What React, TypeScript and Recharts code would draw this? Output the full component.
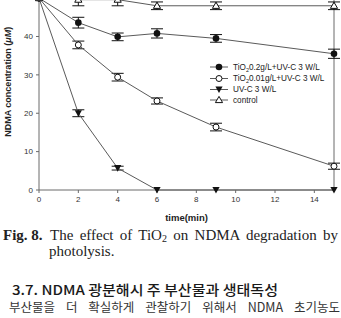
import React from "react"
import { LineChart, Line, XAxis, YAxis, ErrorBar, ReferenceLine, Label } from "recharts"

// sampling times (min)
const TIME = [0, 2, 4, 6, 9, 15]

// NDMA concentration (μM) and standard deviations per condition
const TIO2_HIGH = [50, 43.6, 39.9, 40.8, 39.5, 35.5]
const TIO2_HIGH_ERR = [0, 1.4, 1.0, 1.2, 1.0, 1.2]
const TIO2_LOW = [50, 37.8, 29.4, 23.2, 16.4, 6.2]
const TIO2_LOW_ERR = [0, 1.0, 1.0, 0.8, 1.0, 0.8]
const UVC = [50, 20.0, 5.7, 0, 0, 0]
const UVC_ERR = [0, 0.9, 0.5, 0, 0, 0]
const CONTROL = [50, 49.6, 49.6, 48.0, 48.0, 48.0]
const CONTROL_ERR = [0, 1.6, 1.6, 1.0, 1.0, 1.0]

const X_TICKS = [0, 2, 4, 6, 8, 10, 12, 14]
const Y_TICKS = [0, 10, 20, 30, 40]

type MarkerKind = "filledCircle" | "openCircle" | "filledTriDown" | "openTriUp"

const SERIES: { key: string; err: string; marker: MarkerKind; label: string }[] = [
  { key: "high", err: "highErr", marker: "filledCircle", label: "0.2g/L+UV-C 3 W/L" },
  { key: "low", err: "lowErr", marker: "openCircle", label: "0.01g/L+UV-C 3 W/L" },
  { key: "uvc", err: "uvcErr", marker: "filledTriDown", label: "UV-C 3 W/L" },
  { key: "control", err: "controlErr", marker: "openTriUp", label: "control" },
]

const rows = TIME.map((t, i) => ({
  time: t,
  high: TIO2_HIGH[i],
  highErr: TIO2_HIGH_ERR[i],
  low: TIO2_LOW[i],
  lowErr: TIO2_LOW_ERR[i],
  uvc: UVC[i],
  uvcErr: UVC_ERR[i],
  control: CONTROL[i],
  controlErr: CONTROL_ERR[i],
}))

const INK = "#111"
const LINE = "#5a5a5a"
const AXIS = "#6a6a6a"
const SANS = "'Liberation Sans', Arial, sans-serif"
const SERIF = "'Liberation Serif', 'Times New Roman', serif"
const KR = "'Noto Sans CJK KR', sans-serif"

function Marker({ kind, cx, cy }: { kind: MarkerKind; cx: number; cy: number }) {
  if (kind === "filledCircle") return <circle cx={cx} cy={cy} r={3.3} fill={INK} />
  if (kind === "openCircle")
    return <circle cx={cx} cy={cy} r={3} fill="#fff" stroke={INK} strokeWidth={1} />
  if (kind === "filledTriDown")
    return <polygon points={`${cx - 3.6},${cy - 3} ${cx + 3.6},${cy - 3} ${cx},${cy + 3.6}`} fill={INK} />
  return (
    <polygon
      points={`${cx},${cy - 3.6} ${cx + 3.6},${cy + 2.6} ${cx - 3.6},${cy + 2.6}`}
      fill="#fff"
      stroke={INK}
      strokeWidth={1}
    />
  )
}

const dotFor = (kind: MarkerKind) => (props: any) => {
  const { cx, cy, index } = props
  if (cx == null || cy == null) return <g key={index} />
  return (
    <g key={`${kind}-${index}`}>
      <Marker kind={kind} cx={cx} cy={cy} />
    </g>
  )
}

const YTitle = (props: any) => {
  const { viewBox } = props
  const x = viewBox.x + 8
  const y = viewBox.y + viewBox.height / 2 - 10
  return (
    <text
      x={x}
      y={y}
      transform={`rotate(-90, ${x}, ${y})`}
      textAnchor="middle"
      dominantBaseline="central"
      fontFamily={SANS}
      fontWeight="bold"
      fontSize={9}
      fill="#222"
    >
      NDMA concentration (<tspan fontStyle="italic">μM</tspan>)
    </text>
  )
}

function ChartLegend() {
  const rowsY = [67, 78.5, 89.5, 100]
  return (
    <svg width={341} height={318} style={{ position: "absolute", left: 0, top: 0, pointerEvents: "none" }}>
      {SERIES.map((s, i) => (
        <g key={s.key}>
          <line x1={210} x2={228} y1={rowsY[i]} y2={rowsY[i]} stroke={LINE} strokeWidth={1} />
          <Marker kind={s.marker} cx={219} cy={rowsY[i]} />
          <text x={233} y={rowsY[i] + 2.8} fontFamily={SANS} fontSize={8.2} fill="#222">
            {i < 2 ? (
              <>
                TiO<tspan fontSize={5.5} dy={2}>2</tspan>
                <tspan dy={-2}>{s.label}</tspan>
              </>
            ) : (
              s.label
            )}
          </text>
        </g>
      ))}
    </svg>
  )
}

export default function App() {
  return (
    <div
      style={{
        position: "absolute",
        left: 0,
        top: 0,
        width: 341,
        height: 318,
        overflow: "hidden",
        background: "#fff",
      }}
    >
      <div style={{ position: "absolute", left: 0, top: -20 }}>
        <LineChart width={341} height={250} data={rows} margin={{ top: 13.5, right: 7, left: 0, bottom: 0 }}>
          <XAxis
            dataKey="time"
            type="number"
            domain={[0, 15]}
            ticks={X_TICKS}
            height={40}
            stroke={AXIS}
            tickSize={3}
            tickMargin={3}
            tick={{ fontSize: 8, fill: "#333", fontFamily: SANS }}
            label={{
              value: "time(min)",
              position: "insideBottom",
              offset: 9,
              style: { fontFamily: SANS, fontWeight: "bold", fontSize: 9.5, fill: "#222" },
            }}
          />
          <YAxis
            type="number"
            domain={[0, 50]}
            ticks={Y_TICKS}
            width={39}
            stroke={AXIS}
            tickSize={3}
            tickMargin={3}
            tick={{ fontSize: 8, fill: "#333", fontFamily: SANS }}
          >
            <Label content={YTitle} />
          </YAxis>
          <ReferenceLine x={15} stroke={AXIS} strokeWidth={1} />
          {SERIES.map((s) => (
            <Line
              key={s.key}
              dataKey={s.key}
              type="linear"
              stroke={LINE}
              strokeWidth={1}
              dot={dotFor(s.marker)}
              activeDot={false}
              isAnimationActive={false}
            >
              <ErrorBar dataKey={s.err} width={6} stroke={INK} strokeWidth={1} direction="y" isAnimationActive={false} />
            </Line>
          ))}
        </LineChart>
      </div>
      <ChartLegend />
      <div
        style={{
          position: "absolute",
          left: 3,
          top: 227,
          fontFamily: SERIF,
          fontWeight: "bold",
          fontSize: 15,
          lineHeight: "16px",
          color: "#222",
          whiteSpace: "nowrap",
        }}
      >
        Fig. 8.
      </div>
      <div
        style={{
          position: "absolute",
          left: 50,
          top: 227,
          width: 288,
          fontFamily: SERIF,
          fontSize: 15,
          lineHeight: "16px",
          color: "#222",
          textAlign: "justify",
          textAlignLast: "justify",
          whiteSpace: "nowrap",
        }}
      >
        The effect of TiO<sub style={{ fontSize: 10, verticalAlign: "-2px" }}>2</sub> on NDMA degradation by
      </div>
      <div
        style={{
          position: "absolute",
          left: 49,
          top: 243,
          fontFamily: SERIF,
          fontSize: 15,
          lineHeight: "16px",
          color: "#222",
          whiteSpace: "nowrap",
        }}
      >
        photolysis.
      </div>
      <svg width={341} height={318} style={{ position: "absolute", left: 0, top: 0 }}>
        <text
          x={12}
          y={294.5}
          fontFamily={KR}
          fontWeight={500}
          fontSize={13.5}
          fill="#1a1a1a"
          textLength={266}
          lengthAdjust="spacingAndGlyphs"
        >
          3.7. NDMA 광분해시 주 부산물과 생태독성
        </text>
      </svg>
      <div
        style={{
          position: "absolute",
          left: 9,
          top: 299,
          width: 331,
          fontFamily: KR,
          fontSize: 12.5,
          lineHeight: "15px",
          color: "#333",
          textAlign: "justify",
          textAlignLast: "justify",
          whiteSpace: "nowrap",
        }}
      >
        부산물을 더 확실하게 관찰하기 위해서 NDMA 초기농도
      </div>
    </div>
  )
}
